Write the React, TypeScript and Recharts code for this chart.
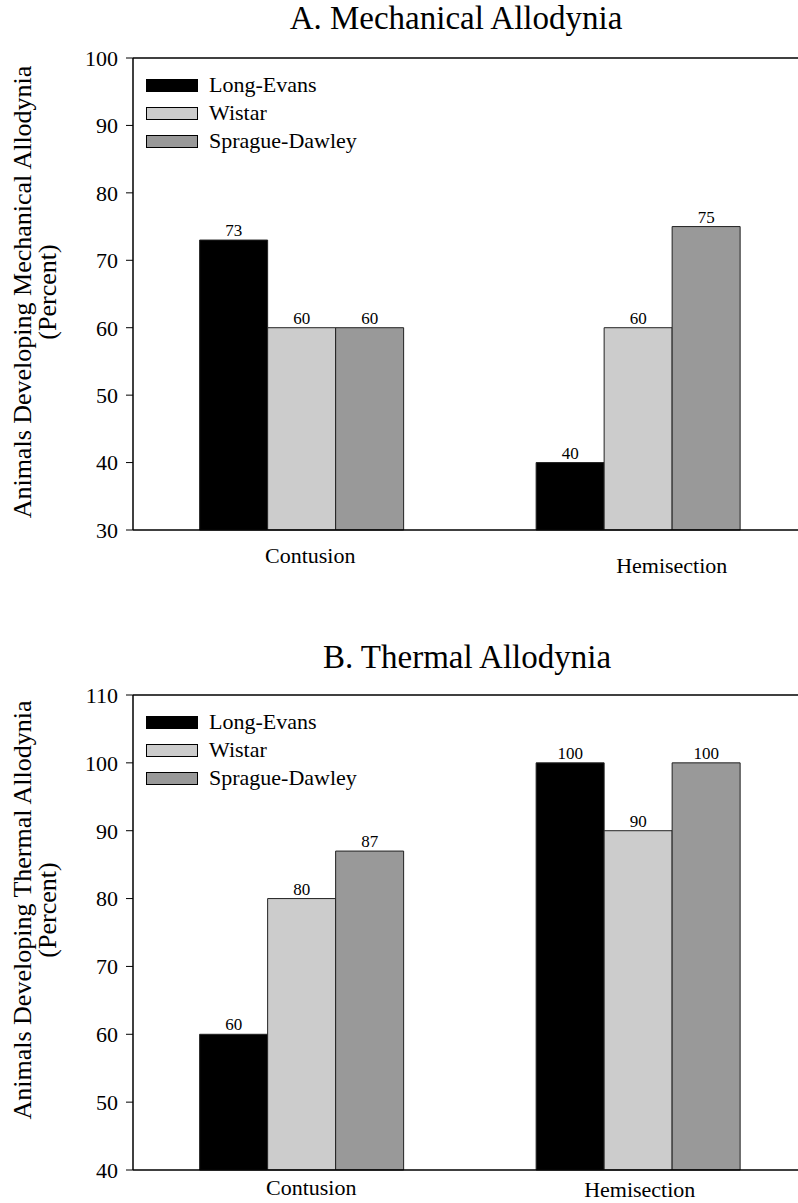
import React from 'react';
import { BarChart, Bar, XAxis, YAxis, ReferenceLine, LabelList, Legend } from 'recharts';

const categories = ['Contusion', 'Hemisection'];
const strains = ['Long-Evans', 'Wistar', 'Sprague-Dawley'];
const strainColors = ['#000000', '#cccccc', '#999999'];

const mechLongEvans = [73, 40];
const mechWistar = [60, 60];
const mechSprague = [60, 75];

const thermLongEvans = [60, 100];
const thermWistar = [80, 90];
const thermSprague = [87, 100];

const mechTicks = [30, 40, 50, 60, 70, 80, 90, 100];
const thermTicks = [40, 50, 60, 70, 80, 90, 100, 110];

const FONT = '"Liberation Serif", "Times New Roman", serif';

const mechData = categories.map((c, i) => ({
  category: c,
  le: mechLongEvans[i],
  wi: mechWistar[i],
  sd: mechSprague[i],
}));
const thermData = categories.map((c, i) => ({
  category: c,
  le: thermLongEvans[i],
  wi: thermWistar[i],
  sd: thermSprague[i],
}));

const seriesKeys = ['le', 'wi', 'sd'];

const makeTick = (offsets: number[][]) => (props: any) => {
  const { x, y, payload, index } = props;
  const o = offsets[index] || [0, 0];
  return (
    <text x={x + o[0]} y={y + o[1]} textAnchor="middle" fontFamily={FONT} fontSize={22} fill="#000">
      {payload.value}
    </text>
  );
};

const renderLegend = (props: any) => {
  const items = [...(props.payload || [])].sort(
    (a: any, b: any) => strains.indexOf(a.value) - strains.indexOf(b.value)
  );
  return (
    <div>
      {items.map((p: any, i: number) => (
        <div key={i} style={{ display: 'flex', alignItems: 'center', height: 28 }}>
          <div
            style={{
              width: 52,
              height: 13,
              background: p.color,
              border: '1px solid #000',
              boxSizing: 'border-box',
            }}
          />
          <span style={{ marginLeft: 11, fontFamily: FONT, fontSize: 22, lineHeight: '28px', color: '#000' }}>
            {p.value}
          </span>
        </div>
      ))}
    </div>
  );
};

const yLabel = (line1: string, cy: number) => () => (
  <g>
    <text transform="rotate(-90)" x={-cy} y={31} textAnchor="middle" fontFamily={FONT} fontSize={26} fill="#000">
      {line1}
    </text>
    <text transform="rotate(-90)" x={-cy} y={56} textAnchor="middle" fontFamily={FONT} fontSize={26} fill="#000">
      (Percent)
    </text>
  </g>
);

type PanelProps = {
  data: any[];
  ticks: number[];
  height: number;
  marginTop: number;
  xAxisHeight: number;
  marginBottom: number;
  label: string;
  labelCy: number;
  legendTop: number;
  tickOffsets: number[][];
};

const Panel = (p: PanelProps) => (
  <BarChart
    width={806}
    height={p.height}
    data={p.data}
    margin={{ top: p.marginTop, right: 0, bottom: p.marginBottom, left: 0 }}
    barCategoryGap="19.8%"
    barGap={0}
  >
    <XAxis
      dataKey="category"
      height={p.xAxisHeight}
      tickLine={false}
      tickSize={0}
      tickMargin={0}
      axisLine={{ stroke: '#000', strokeWidth: 1.5 }}
      tick={makeTick(p.tickOffsets)}
      interval={0}
    />
    <YAxis
      width={133}
      type="number"
      domain={[p.ticks[0], p.ticks[p.ticks.length - 1]]}
      ticks={p.ticks}
      interval={0}
      tickSize={7}
      tickMargin={8}
      axisLine={{ stroke: '#000', strokeWidth: 1.5 }}
      tickLine={{ stroke: '#000', strokeWidth: 1 }}
      tick={{ fontFamily: FONT, fontSize: 22, fill: '#000' }}
      label={{ content: yLabel(p.label, p.labelCy) }}
    />
    <ReferenceLine y={p.ticks[p.ticks.length - 1]} stroke="#000" strokeWidth={1.5} />
    <Legend
      layout="vertical"
      align="center"
      verticalAlign="middle"
      content={renderLegend}
      wrapperStyle={{ position: 'absolute', left: 146, top: p.legendTop, width: 'auto', height: 'auto' }}
    />
    {seriesKeys.map((k, i) => (
      <Bar
        key={k}
        dataKey={k}
        name={strains[i]}
        fill={strainColors[i]}
        stroke="#222"
        strokeWidth={1}
        isAnimationActive={false}
      >
        <LabelList dataKey={k} position="top" offset={4} fontFamily={FONT} fontSize={17} fill="#000" />
      </Bar>
    ))}
  </BarChart>
);

export default function App() {
  return (
    <div style={{ position: 'absolute', left: 0, top: 0, width: 798, height: 1203, overflow: 'hidden', background: '#fff' }}>
      <svg width={798} height={1203} style={{ position: 'absolute', left: 0, top: 0 }}>
        <text x={456} y={29} textAnchor="middle" fontFamily={FONT} fontSize={33} fill="#000">
          A. Mechanical Allodynia
        </text>
        <text x={467} y={668} textAnchor="middle" fontFamily={FONT} fontSize={33} fill="#000">
          B. Thermal Allodynia
        </text>
      </svg>
      <div style={{ position: 'absolute', left: 0, top: 0 }}>
        <Panel
          data={mechData}
          ticks={mechTicks}
          height={600}
          marginTop={58}
          xAxisHeight={40}
          marginBottom={30}
          label="Animals Developing Mechanical Allodynia"
          labelCy={292}
          legendTop={71}
          tickOffsets={[[9, 33], [34, 43]]}
        />
      </div>
      <div style={{ position: 'absolute', left: 0, top: 620 }}>
        <Panel
          data={thermData}
          ticks={thermTicks}
          height={583}
          marginTop={75}
          xAxisHeight={33}
          marginBottom={0}
          label="Animals Developing Thermal Allodynia"
          labelCy={290}
          legendTop={88}
          tickOffsets={[[10, 25], [2, 27]]}
        />
      </div>
    </div>
  );
}
